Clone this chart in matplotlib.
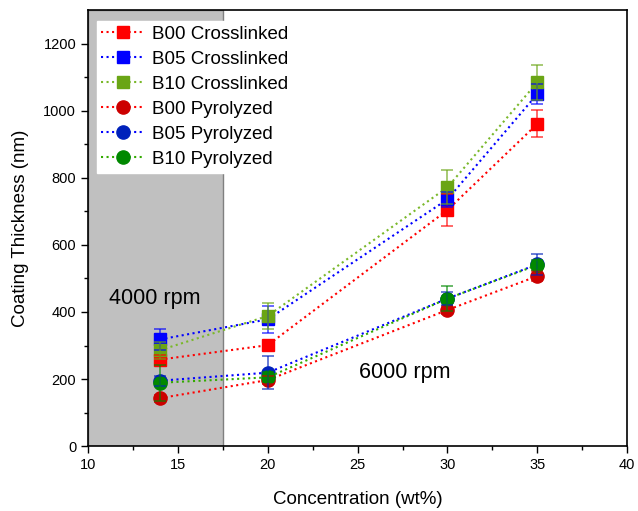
import matplotlib.pyplot as plt
import numpy as np

plt.rcParams['font.family'] = ['Liberation Sans', 'DejaVu Sans']

conc = [14, 20, 30, 35]

b00_cross = [258, 301, 704, 961]
b05_cross = [318, 378, 736, 1050]
b10_cross = [286, 388, 772, 1085]
b00_pyro = [143, 197, 406, 507]
b05_pyro = [195, 219, 440, 542]
b10_pyro = [189, 205, 440, 540]

b00_cross_err = [15, 12, 47, 40]
b05_cross_err = [30, 40, 22, 30]
b10_cross_err = [25, 40, 50, 52]
b00_pyro_err = [10, 12, 12, 15]
b05_pyro_err = [15, 50, 20, 31]
b10_pyro_err = [53, 15, 38, 15]

labels = ['B00 Crosslinked', 'B05 Crosslinked', 'B10 Crosslinked',
          'B00 Pyrolyzed', 'B05 Pyrolyzed', 'B10 Pyrolyzed']

fig = plt.figure(figsize=(6.38, 5.11), dpi=100)
ax = fig.add_axes([0.138, 0.127, 0.845, 0.853])

# low spin speed region
ax.axvspan(10, 17.5, facecolor='#c0c0c0', edgecolor='#808080', linewidth=1, zorder=0)

series = [
    (b00_cross, b00_cross_err, 's', 8.5, '#ff0000', '#ff0000'),
    (b05_cross, b05_cross_err, 's', 8.5, '#0000ff', '#0000ff'),
    (b10_cross, b10_cross_err, 's', 8.5, '#6aa515', '#7ab82a'),
    (b00_pyro, b00_pyro_err, 'o', 9.5, '#cc0000', '#ff0000'),
    (b05_pyro, b05_pyro_err, 'o', 9.5, '#0022bb', '#0000ff'),
    (b10_pyro, b10_pyro_err, 'o', 9.5, '#008800', '#33aa00'),
]

for (vals, err, mk, ms, mc, lc), lab in zip(series, labels):
    ax.errorbar(conc, vals, yerr=err, fmt='none', ecolor=mc, elinewidth=1.1,
                capsize=4, capthick=1.1, alpha=0.75, zorder=3)
    ax.plot(conc, vals, linestyle=':', linewidth=1.5, color=lc, marker=mk,
            markersize=ms, markerfacecolor=mc, markeredgecolor=mc, label=lab, zorder=2)

ax.text(13.7, 440, '4000 rpm', fontsize=15.5, ha='center', va='center')
ax.text(27.6, 220, '6000 rpm', fontsize=15.5, ha='center', va='center')

ax.set_xlim(10, 40)
ax.set_ylim(0, 1300)
ax.set_xticks(np.arange(10, 41, 5))
ax.set_xticks(np.arange(12.5, 40, 5), minor=True)
ax.set_yticks(np.arange(0, 1201, 200))
ax.set_yticks(np.arange(100, 1300, 200), minor=True)
ax.tick_params(which='major', direction='out', length=5, width=1, labelsize=10.5)
ax.tick_params(which='minor', direction='out', length=3, width=1)
for s in ax.spines.values():
    s.set_linewidth(1.2)

ax.set_xlabel('Concentration (wt%)', fontsize=13.5, labelpad=14)
ax.set_ylabel('Coating Thickness (nm)', fontsize=13.5, labelpad=10)

leg = ax.legend(loc='upper left', bbox_to_anchor=(0.016, 0.975), fontsize=13.5,
                frameon=True, fancybox=False, edgecolor='white', framealpha=1,
                handlelength=2.3, handletextpad=0.4, labelspacing=0.42, borderpad=0.25,
                borderaxespad=0)

fig.savefig('out.png', dpi=100)
